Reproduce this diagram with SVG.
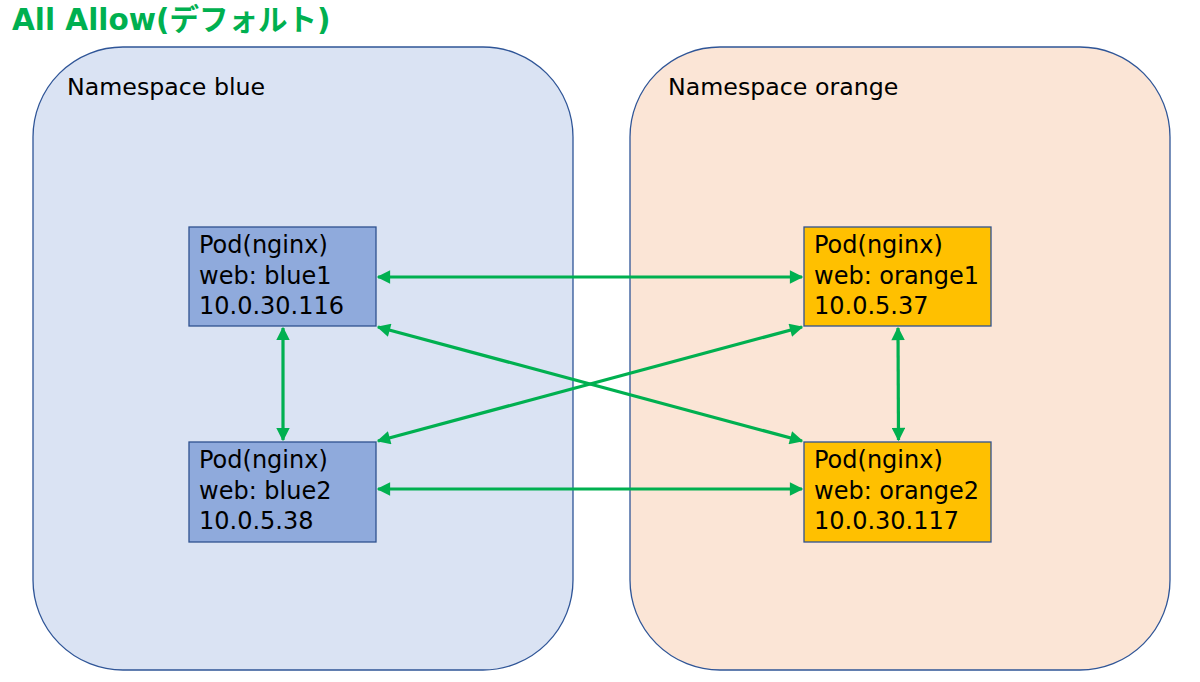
<svg xmlns="http://www.w3.org/2000/svg" width="1200" height="682" viewBox="0 0 1200 682">
<defs>
<style>
.ns{stroke:#2F5597;stroke-width:1.3}
.pod{stroke:#2F528F;stroke-width:1.3}
.t{font-family:"DejaVu Sans","Noto Sans CJK JP",sans-serif;fill:#000}
.pt{font-size:24px}
.c{stroke:#00B050;stroke-width:3.2;fill:none;marker-start:url(#ah);marker-end:url(#ah)}
</style>
<marker id="ah" viewBox="0 0 10 10" refX="9" refY="5" markerWidth="4.5" markerHeight="4.2" orient="auto-start-reverse" markerUnits="strokeWidth">
<path d="M0,0 L10,5 L0,10 Z" fill="#00B050"/>
</marker>
</defs>
<rect width="1200" height="682" fill="#fff"/>
<text x="12" y="30" font-family="DejaVu Sans,'Noto Sans CJK JP',sans-serif" font-weight="bold" font-size="29.5" fill="#00B050">All Allow(デフォルト)</text>
<g id="ns-blue">
<rect class="ns" x="33" y="47" width="540" height="623" rx="90" ry="90" fill="#DAE3F3"/>
<text class="t" x="67" y="95" font-size="23.7">Namespace blue</text>
</g>
<g id="ns-orange">
<rect class="ns" x="630" y="47" width="540" height="623" rx="90" ry="90" fill="#FBE5D6"/>
<text class="t" x="668" y="95" font-size="23.7">Namespace orange</text>
</g>
<g id="connectors">
<line class="c" x1="378" y1="277" x2="802" y2="277"/>
<line class="c" x1="378" y1="489" x2="802" y2="489"/>
<line class="c" x1="283" y1="328" x2="283" y2="440"/>
<line class="c" x1="898" y1="328" x2="898.5" y2="440"/>
<line class="c" x1="378" y1="327" x2="802" y2="441"/>
<line class="c" x1="378" y1="441" x2="802" y2="327"/>
</g>
<g id="pod-blue1">
<rect class="pod" x="189" y="227" width="187" height="99" fill="#8FAADC"/>
<text class="t pt" x="199" y="253">Pod(nginx)</text>
<text class="t pt" x="199" y="284">web: blue1</text>
<text class="t pt" x="199" y="314">10.0.30.116</text>
</g>
<g id="pod-blue2">
<rect class="pod" x="189" y="442" width="187" height="100" fill="#8FAADC"/>
<text class="t pt" x="199" y="468">Pod(nginx)</text>
<text class="t pt" x="199" y="499">web: blue2</text>
<text class="t pt" x="199" y="529">10.0.5.38</text>
</g>
<g id="pod-orange1">
<rect class="pod" x="804" y="227" width="187" height="99" fill="#FFC000"/>
<text class="t pt" x="814" y="253">Pod(nginx)</text>
<text class="t pt" x="814" y="284">web: orange1</text>
<text class="t pt" x="814" y="314">10.0.5.37</text>
</g>
<g id="pod-orange2">
<rect class="pod" x="804" y="442" width="187" height="100" fill="#FFC000"/>
<text class="t pt" x="814" y="468">Pod(nginx)</text>
<text class="t pt" x="814" y="499">web: orange2</text>
<text class="t pt" x="814" y="529">10.0.30.117</text>
</g>
</svg>
